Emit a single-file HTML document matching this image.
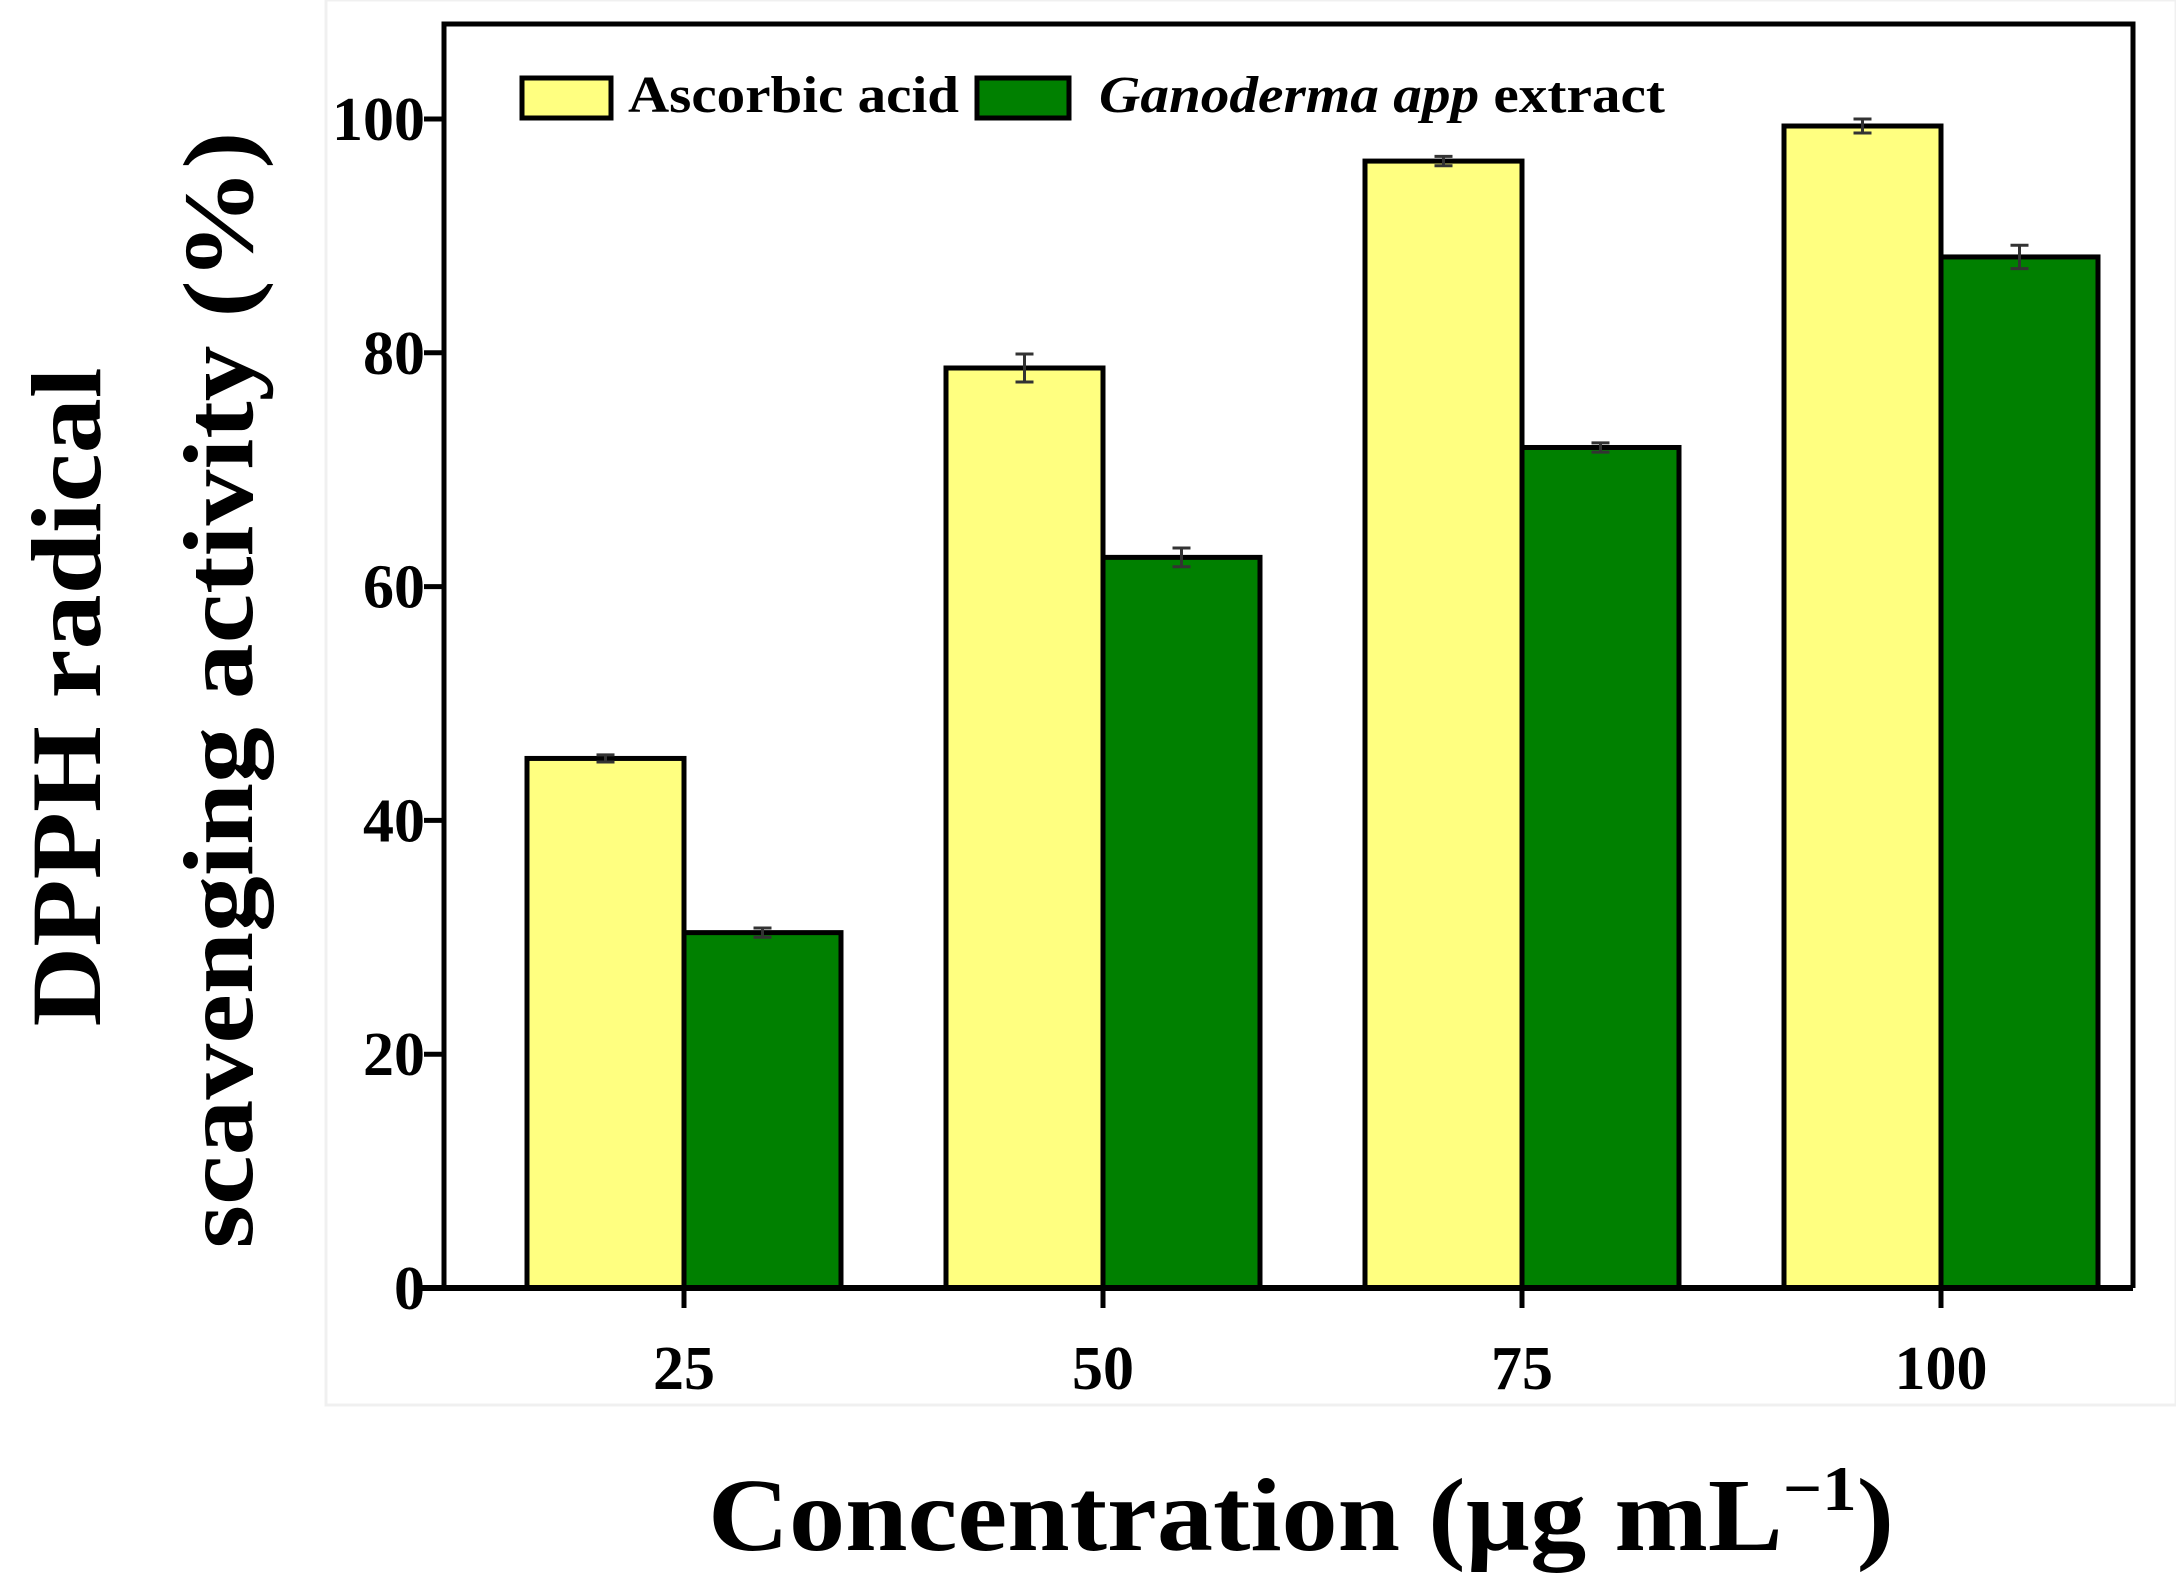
<!DOCTYPE html>
<html><head><meta charset="utf-8"><style>
html,body{margin:0;padding:0;background:#fff;}
svg{display:block;}
text{font-family:"Liberation Serif",serif;font-weight:bold;fill:#000;}
</style></head><body>
<svg id="chart" width="2176" height="1589" viewBox="0 0 2176 1589" xmlns="http://www.w3.org/2000/svg">
<rect x="326" y="0" width="1850" height="1405" fill="none" stroke="#f0f0f0" stroke-width="3"/>
<g id="bars"></g>
<g id="axes"></g>
<g>
 <rect x="522" y="78" width="89" height="40" fill="#ffff80" stroke="#000" stroke-width="5"/>
 <text x="628" y="112" font-size="52" textLength="331" lengthAdjust="spacingAndGlyphs">Ascorbic acid</text>
 <rect x="977" y="78" width="92" height="40" fill="#008000" stroke="#000" stroke-width="5"/>
 <text x="1099" y="112" font-size="52" textLength="566" lengthAdjust="spacingAndGlyphs"><tspan font-style="italic">Ganoderma app</tspan> extract</text>
</g>
<text transform="translate(100,697) rotate(-90)" text-anchor="middle" font-size="100" textLength="659" lengthAdjust="spacingAndGlyphs">DPPH radical</text>
<text transform="translate(252,690) rotate(-90)" text-anchor="middle" font-size="100" textLength="1117" lengthAdjust="spacingAndGlyphs">scavenging activity (%)</text>
<text x="708" y="1550" font-size="104" textLength="1186" lengthAdjust="spacingAndGlyphs">Concentration (µg mL<tspan dy="-40" font-size="64">−1</tspan><tspan dy="40">)</tspan></text>
</svg>
<script>
const categories = ["25", "50", "75", "100"];
const ascorbic = [45.3, 78.7, 96.4, 99.4];
const ascorbicErr = [0.3, 1.2, 0.4, 0.6];
const ganoderma = [30.4, 62.5, 71.9, 88.2];
const ganodermaErr = [0.4, 0.8, 0.4, 1.0];
const yTicks = [0, 20, 40, 60, 80, 100];

const NS = "http://www.w3.org/2000/svg";
const L = 444, R = 2133, T = 24, Y0 = 1288, Y100 = 119;
const y = v => Y0 + (Y100 - Y0) * v / 100;
const groupX = i => 684 + i * 419;
const BW = 157;
function mk(tag, attrs, parent) {
  const e = document.createElementNS(NS, tag);
  for (const k in attrs) e.setAttribute(k, attrs[k]);
  parent.appendChild(e);
  return e;
}
const bars = document.getElementById("bars");
const axes = document.getElementById("axes");
function drawSeries(vals, errs, offset, color, name) {
  vals.forEach((v, i) => {
    const x = groupX(i) + offset;
    const r = mk("rect", {x: x, y: y(v), width: BW, height: Y0 - y(v), fill: color, stroke: "#000", "stroke-width": 5}, bars);
    
    
    const cx = x + BW / 2, e = errs[i];
    const g = mk("path", {d: `M${cx},${y(v + e)}V${y(v - e)}M${cx - 9},${y(v + e)}H${cx + 9}M${cx - 9},${y(v - e)}H${cx + 9}`, stroke: "#333", "stroke-width": 3, fill: "none"}, bars);
    
    
  });
}
drawSeries(ascorbic, ascorbicErr, -BW, "#ffff80", "ascorbic");
drawSeries(ganoderma, ganodermaErr, 0, "#008000", "ganoderma");

const frame = mk("path", {d: `M${L},${Y0}V${T}H${R}V${Y0}`, fill: "none", stroke: "#000", "stroke-width": 5}, axes);


const xa = mk("line", {x1: L - 22, x2: R, y1: Y0, y2: Y0, stroke: "#000", "stroke-width": 6}, axes);


yTicks.forEach(t => {
  const tk = mk("line", {x1: L - 20, x2: L, y1: y(t), y2: y(t), stroke: "#000", "stroke-width": 5}, axes);
  
  
  const lb = mk("text", {x: 425, y: y(t) + 21, "text-anchor": "end", "font-size": 62}, axes);
  lb.textContent = t;
  
  
});
categories.forEach((c, i) => {
  const x = groupX(i);
  const tk = mk("line", {x1: x, x2: x, y1: Y0, y2: Y0 + 20, stroke: "#000", "stroke-width": 5}, axes);
  
  
  const lb = mk("text", {x: x, y: 1389, "text-anchor": "middle", "font-size": 62}, axes);
  lb.textContent = c;
  
  
});
</script>
</body></html>
